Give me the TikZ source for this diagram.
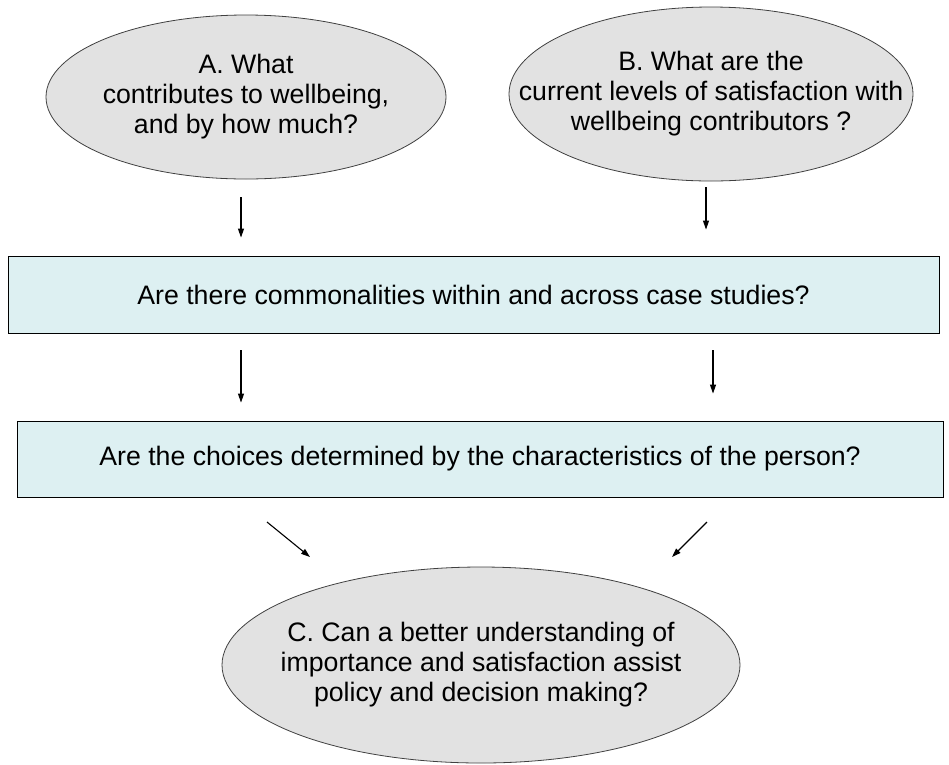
\documentclass[tikz,border=0pt]{standalone}
\usepackage{fontspec}
\setmainfont{Liberation Sans}
\usetikzlibrary{arrows.meta,shapes.geometric,positioning}

\definecolor{ovalgray}{RGB}{226,226,226}
\definecolor{boxcyan}{RGB}{221,240,242}

\begin{document}
\begin{tikzpicture}[
        x=1pt, y=-1pt,
        >={Triangle[length=9pt,width=6pt]}, % arrow head style
        line width=1.1pt,
        font=\fontsize{26.7}{30}\selectfont]

        \tikzstyle{question}=[
            ellipse,
            draw = black!75,
            fill = ovalgray,
            line width=0.8pt,
            inner sep=0pt
        ]
        \tikzstyle{qtext}=[
            align=center,
            inner sep=0pt
        ]
        \tikzstyle{stage}=[
            rectangle,
            draw = black,
            fill = boxcyan,
            line width=0.9pt,
            inner sep=0pt
        ]
        \useasboundingbox (0,0) rectangle (949,764);

        \node[question, minimum width=400pt, minimum height=164pt] (qA) at (246,97) {};
        \node[qtext] (qAtext) at (qA) {A. What\\contributes to wellbeing,\\and by how much?};
        \node[question, minimum width=404pt, minimum height=174pt] (qB) at (711,94) {};
        \node[qtext] (qBtext) at (qB) {B. What are the\\current levels of satisfaction with\\wellbeing contributors ?};
        \node[stage, minimum width=931pt, minimum height=77pt] (common) at (473.5,294.5)
            {Are there commonalities within and across case studies?};
        \node[stage, minimum width=926pt, minimum height=76pt] (choices) at (480,459)
            {Are the choices determined by the characteristics of the person?};
        \node[question, minimum width=518pt, minimum height=196pt] (qC) at (481,665) {};
        \node[qtext] (qCtext) at (qC) {C. Can a better understanding of\\importance and satisfaction assist\\policy and decision making?};

        % free ends of the slanted arrows
        \coordinate (lt) at (267,522);
        \coordinate (lh) at (310,557);
        \coordinate (rt) at (707,522);
        \coordinate (rh) at (672,557);

        \draw[->, shorten <=18pt, shorten >=18pt] (qA.south -| 241,0) -- (common.north -| 241,0);
        \draw[->, shorten <=6pt, shorten >=26pt] (qB.south -| 706,0) -- (common.north -| 706,0);
        \draw[->, shorten <=17pt, shorten >=18pt] (common.south -| 241,0) -- (choices.north -| 241,0);
        \draw[->, shorten <=17pt, shorten >=27pt] (common.south -| 713,0) -- (choices.north -| 713,0);
        \draw[->] (lt) -- (lh);
        \draw[->] (rt) -- (rh);
    \end{tikzpicture}
\end{document}
